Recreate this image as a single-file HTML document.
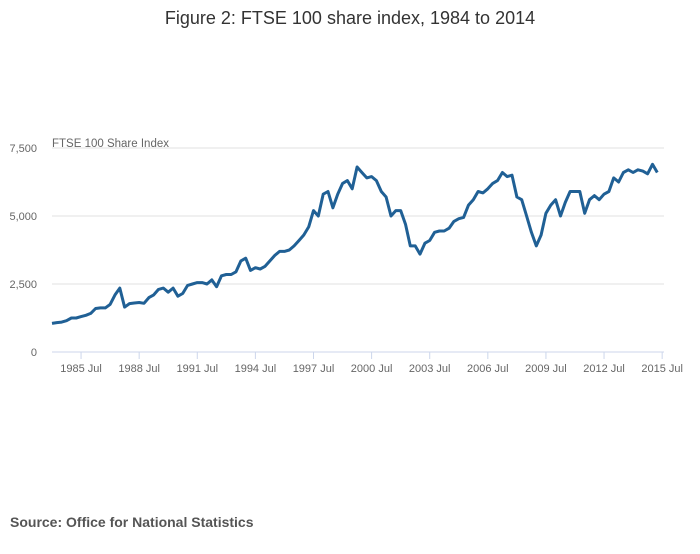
<!DOCTYPE html>
<html><head><meta charset="utf-8"><style>
body{margin:0;background:#fff;font-family:"Liberation Sans",sans-serif}
</style></head><body>
<svg width="700" height="549" viewBox="0 0 700 549" xmlns="http://www.w3.org/2000/svg">
<text x="350" y="24" text-anchor="middle" font-size="18" fill="#333">Figure 2: FTSE 100 share index, 1984 to 2014</text>
<text x="52" y="147" font-size="11.5" fill="#666">FTSE 100 Share Index</text>
<g id="grid"></g><g id="xaxis"></g>
<path id="line" fill="none" stroke="#206095" stroke-width="3" stroke-linejoin="round"/>
<text x="10" y="527" font-size="14" font-weight="bold" fill="#555">Source: Office for National Statistics</text>
</svg>
<script>
const startYear = 1984;
const yTicks = [0, 2500, 5000, 7500];
const xTickLabels = ["1985 Jul","1988 Jul","1991 Jul","1994 Jul","1997 Jul","2000 Jul","2003 Jul","2006 Jul","2009 Jul","2012 Jul","2015 Jul"];
const xTickYears = [1985.5,1988.5,1991.5,1994.5,1997.5,2000.5,2003.5,2006.5,2009.5,2012.5,2015.5];
const values = [
1050,1080,1100,1150, 1250,1250,1300,1350, 1420,1600,1620,1620, 1750,2100,2350,1650,
1780,1800,1820,1790, 2000,2100,2300,2350, 2200,2350,2050,2150, 2450,2500,2550,2550,
2500,2650,2400,2800, 2850,2850,2950,3350, 3450,3000,3100,3050, 3150,3350,3550,3700,
3700,3750,3900,4100, 4300,4600,5200,5000, 5800,5900,5300,5800, 6200,6300,6000,6800,
6600,6400,6450,6300, 5900,5700,5000,5200, 5200,4700,3900,3900, 3600,4000,4100,4400,
4450,4450,4550,4800, 4900,4950,5400,5600, 5900,5850,6000,6200, 6300,6600,6450,6500,
5700,5600,5000,4400, 3900,4300,5100,5400, 5600,5000,5500,5900, 5900,5900,5100,5600,
5750,5600,5800,5900, 6400,6250,6600,6700, 6600,6700,6650,6550, 6900,6600];
const NS="http://www.w3.org/2000/svg";
const X0=52, Xpy=19.37, Y0=352, Ypv=68/2500;
const xs=y=>X0+(y-startYear)*Xpy, ys=v=>Y0-v*Ypv;
const grid=document.getElementById('grid'), xa=document.getElementById('xaxis');
yTicks.forEach(t=>{
 if(t>0){const l=document.createElementNS(NS,'line');
 l.setAttribute('x1',52);l.setAttribute('x2',664);l.setAttribute('y1',ys(t));l.setAttribute('y2',ys(t));
 l.setAttribute('stroke','#e0e0e0');
 
 
 grid.appendChild(l);}
 const tx=document.createElementNS(NS,'text');
 tx.setAttribute('x',37);tx.setAttribute('y',ys(t)+4);tx.setAttribute('text-anchor','end');
 tx.setAttribute('font-size','11');tx.setAttribute('fill','#666');
 tx.textContent=t.toLocaleString('en-GB');
 
 
 grid.appendChild(tx);
});
const ax=document.createElementNS(NS,'line');
ax.setAttribute('x1',52);ax.setAttribute('x2',664);ax.setAttribute('y1',352);ax.setAttribute('y2',352);ax.setAttribute('stroke','#ccd6eb');


xa.appendChild(ax);
xTickYears.forEach((yr,i)=>{
 const x=xs(yr);
 const tk=document.createElementNS(NS,'line');
 tk.setAttribute('x1',x);tk.setAttribute('x2',x);tk.setAttribute('y1',352);tk.setAttribute('y2',359);tk.setAttribute('stroke','#ccd6eb');
 
 
 xa.appendChild(tk);
 const tx=document.createElementNS(NS,'text');
 tx.setAttribute('x',x);tx.setAttribute('y',372);tx.setAttribute('text-anchor','middle');
 tx.setAttribute('font-size','11');tx.setAttribute('fill','#666');
 tx.textContent=xTickLabels[i];
 
 
 xa.appendChild(tx);
});
let d='';
values.forEach((v,i)=>{d+=(i?'L':'M')+xs(startYear+i*0.25).toFixed(1)+','+ys(v).toFixed(1);});
document.getElementById('line').setAttribute('d',d);
</script>
</body></html>
